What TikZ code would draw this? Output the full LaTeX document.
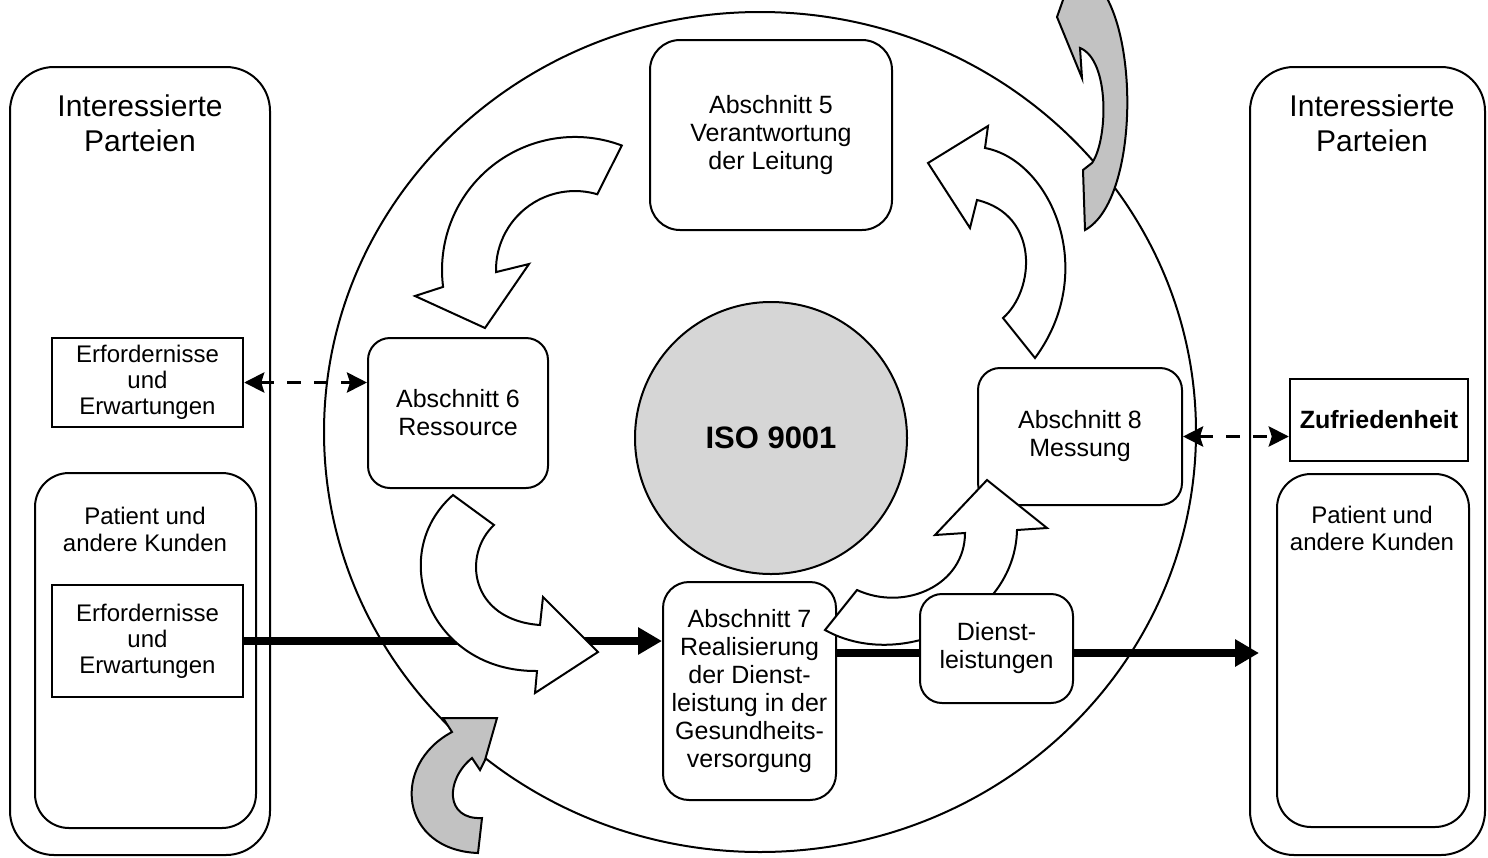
\documentclass[tikz,border=0pt]{standalone}
\usepackage{fontspec}
\setmainfont{Liberation Sans}
\usetikzlibrary{shapes.geometric,arrows.meta}
\pgfdeclarelayer{bg}
\pgfdeclarelayer{fg}
\pgfsetlayers{bg,main,fg}
\definecolor{isogray}{gray}{0.84}
\definecolor{arrgray}{gray}{0.76}
\tikzset{
  outline/.style={draw, line width=1pt},
  bigbox/.style={outline, rectangle, rounded corners=22pt, inner sep=0pt},
  innerbox/.style={outline, rectangle, rounded corners=17pt, inner sep=0pt},
  reqbox/.style={draw, line width=1.2pt, rectangle, inner sep=0pt, align=center, font=\fontsize{12}{13}\selectfont, fill=white},
  secbox/.style={outline, rectangle, rounded corners=12pt, inner sep=0pt, align=center, font=\fontsize{12.5}{14}\selectfont, fill=white},
  titletext/.style={align=center, font=\fontsize{15}{17.5}\selectfont},
  pattext/.style={align=center, font=\fontsize{12}{13.5}\selectfont},
  thickarrow/.style={line width=4pt, -{Triangle[length=12pt,width=13pt]}},
  thickline/.style={line width=4pt},
  dasharrow/.style={line width=1.8pt, dash pattern=on 7pt off 6.5pt, {Stealth[length=10pt,width=10pt,inset=1.5pt]}-{Stealth[length=10pt,width=10pt,inset=1.5pt]}},
  blockarrow/.style={draw, line width=1pt, fill=white},
  greyarrow/.style={draw, line width=1pt, fill=arrgray},
}
\begin{document}
\begin{tikzpicture}[x=0.5pt, y=-0.5pt]
\useasboundingbox (0,0) rectangle (1488,857);

% side panels
\node[bigbox, minimum width=130pt, minimum height=394pt] (L) at (140,461) {};
\node[bigbox, minimum width=117.5pt, minimum height=394pt] (R) at (1367.5,461) {};
\node[titletext] (LT) at (140,123) {Interessierte\\Parteien};
\node[titletext] (RT) at (1372,123) {Interessierte\\Parteien};
\node[reqbox, minimum width=95.5pt, minimum height=44.5pt] (Lreq) at (147.5,382.5) {Erfordernisse\\und\\Erwartungen};
\node[innerbox, minimum width=110.5pt, minimum height=177.5pt] (Lpat) at (145.5,650.5) {};
\node[pattext] (LP) at (145,529) {Patient und\\andere Kunden};
\node[reqbox, minimum width=95.5pt, minimum height=56pt] (Lreq2) at (147.5,641) {Erfordernisse\\und\\Erwartungen};
\node[reqbox, minimum width=89pt, minimum height=41pt, font=\fontsize{12.5}{14}\selectfont\bfseries] (Rzuf) at (1379,420) {Zufriedenheit};
\node[innerbox, minimum width=96pt, minimum height=176.5pt] (Rpat) at (1373,650.5) {};
\node[pattext] (RP) at (1372,528) {Patient und\\andere Kunden};

% central ellipse
\begin{pgfonlayer}{bg}
\node[draw, ellipse, line width=1pt, minimum width=436pt, minimum height=420pt, inner sep=0pt] (E) at (760,432) {};
\end{pgfonlayer}

\node[draw, circle, line width=1pt, fill=isogray, minimum size=136pt, inner sep=0pt, font=\fontsize{15.5}{18}\selectfont\bfseries] (ISO) at (771,438) {ISO 9001};

\node[secbox, rounded corners=15pt, minimum width=121pt, minimum height=95pt] (A5) at (771,135) {Abschnitt 5\\Verantwortung\\der Leitung};
\node[secbox, rounded corners=11pt, minimum width=90pt, minimum height=75pt] (A6) at (458,413) {Abschnitt 6\\Ressource};
\node[secbox, rounded corners=13pt, minimum width=86.5pt, minimum height=109pt] (A7) at (749.5,691) {Abschnitt 7\\Realisierung\\der Dienst-\\leistung in der\\Gesundheits-\\versorgung};
\node[secbox, rounded corners=11pt, minimum width=102pt, minimum height=68.5pt] (A8) at (1080,436.5) {Abschnitt 8\\Messung};
\begin{pgfonlayer}{fg}
\node[secbox, rounded corners=11pt, minimum width=76.5pt, minimum height=54.5pt] (DL) at (996.5,648.5) {Dienst-\\leistungen};
\end{pgfonlayer}

% connectors
\begin{pgfonlayer}{bg}
\draw[thickarrow] (Lreq2.east) -- (Lreq2.east -| A7.west);
\draw[thickline] ([yshift=-2.25pt]DL.west -| A7.east) -- ([yshift=-2.25pt]DL.west);
\draw[thickarrow, shorten >=-5pt] ([yshift=-2.25pt]DL.east) -- ([yshift=-2.25pt]DL.east -| R.west);
\end{pgfonlayer}
\draw[dasharrow] (Lreq.east) -- (Lreq.east -| A6.west);
\draw[dasharrow] (A8.east) -- (A8.east -| Rzuf.west);

% white block arrows
\draw[blockarrow] (621.8,145.5) arc[start angle=-69.4, end angle=-187.3, radius=133]
  -- (415,296) -- (485,328) -- (529,264) -- (496,272.1)
  arc[start angle=-181.5, end angle=-73.6, radius=79] -- cycle;
\draw[blockarrow] (453,495) -- (494,525) .. controls (462,555) and (470,620) .. (540,625)
  -- (543,597) -- (598,652) -- (535,693) -- (537,671)
  .. controls (430,672) and (385,555) .. (453,495) -- cycle;
\draw[blockarrow] (825,630) -- (857,590) .. controls (905,612) and (965,585) .. (965,533)
  -- (935,535) -- (987,480) -- (1047,528) -- (1017,530)
  .. controls (1015,620) and (900,672) .. (825,630) -- cycle;
\draw[blockarrow] (1035,358) -- (1003,318) .. controls (1035,290) and (1040,215) .. (977,200)
  -- (970,228) -- (928,163) -- (988,126) -- (985,148)
  .. controls (1050,160) and (1100,270) .. (1035,358) -- cycle;

% grey arrows
\draw[greyarrow] (478,853) .. controls (400,850) and (390,765) .. (452,732)
  -- (443,718) -- (497,718) -- (485,760) -- (480,770) -- (472,758)
  .. controls (445,780) and (445,820) .. (482,818) -- cycle;
\begin{scope}
\clip (0,0) rectangle (1488,857);
\draw[greyarrow] (1085,230) -- (1083,170) -- (1092,163) .. controls (1108,140) and (1110,60) .. (1080,48)
  -- (1082,78) -- (1057,17) -- (1075,-34) -- (1093,-20)
  .. controls (1140,20) and (1140,200) .. (1085,230) -- cycle;
\end{scope}
\end{tikzpicture}
\end{document}
